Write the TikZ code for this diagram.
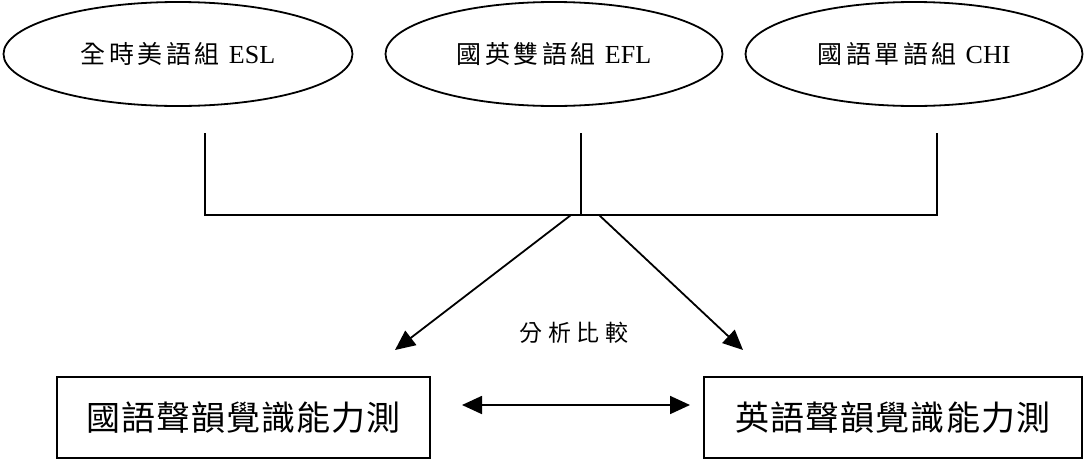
\documentclass[tikz,border=0pt]{standalone}
\usepackage{fontspec}
\setmainfont{Liberation Serif}
\newfontfamily\cjk{Noto Sans CJK TC}
\usetikzlibrary{arrows.meta,shapes.geometric}

\begin{document}
\begin{tikzpicture}[x=1pt, y=-1pt, line width=1.8pt, >={Triangle[length=20pt,width=18pt]},
  group/.style={draw, ellipse, minimum height=104pt, inner sep=0pt, font=\cjk\fontsize{25}{27}\selectfont\addfontfeature{LetterSpace=14}},
  testbox/.style={draw, minimum width=373pt, minimum height=81pt, inner sep=0pt, font=\cjk\fontsize{34}{36}\selectfont\addfontfeature{LetterSpace=3}}]
\useasboundingbox (0,0) rectangle (1089,469);
% three learner groups
\node[group, minimum width=349pt] (esl) at (178,54) {全時美語組 {\rmfamily\fontsize{26}{28}\selectfont ESL}};
\node[group, minimum width=337pt] (efl) at (554,54) {國英雙語組 {\rmfamily\fontsize{26}{28}\selectfont EFL}};
\node[group, minimum width=337pt] (chi) at (914,54) {國語單語組 {\rmfamily\fontsize{26}{28}\selectfont CHI}};
% two tests
\node[testbox] (mandarin) at (243.5,417.5) {國語聲韻覺識能力測};
\node[testbox, minimum width=378pt] (english) at (893,417.5) {英語聲韻覺識能力測};
\node[font=\cjk\fontsize{23}{25}\selectfont\addfontfeature{LetterSpace=25}] (compare) at (574,333) {分析比較};
% joining lines
\coordinate (esltop) at (205,133);
\coordinate (efltop) at (581,133);
\coordinate (chitop) at (937,133);
\coordinate (eslbar) at (205,215);
\coordinate (eflbar) at (581,215);
\coordinate (chibar) at (937,215);
\coordinate (leftfoot) at (571,215);
\coordinate (rightfoot) at (599,215);
\coordinate (leftend) at (395,350);
\coordinate (rightend) at (743,350);
\coordinate (pairleft) at (462,405);
\coordinate (pairright) at (690,405);
\draw (esltop) -- (eslbar) -- (chibar) -- (chitop);
\draw (efltop) -- (eflbar);
\draw[->] (leftfoot) -- (leftend);
\draw[->] (rightfoot) -- (rightend);
\draw[<->] (pairleft) -- (pairright);
\end{tikzpicture}
\end{document}
